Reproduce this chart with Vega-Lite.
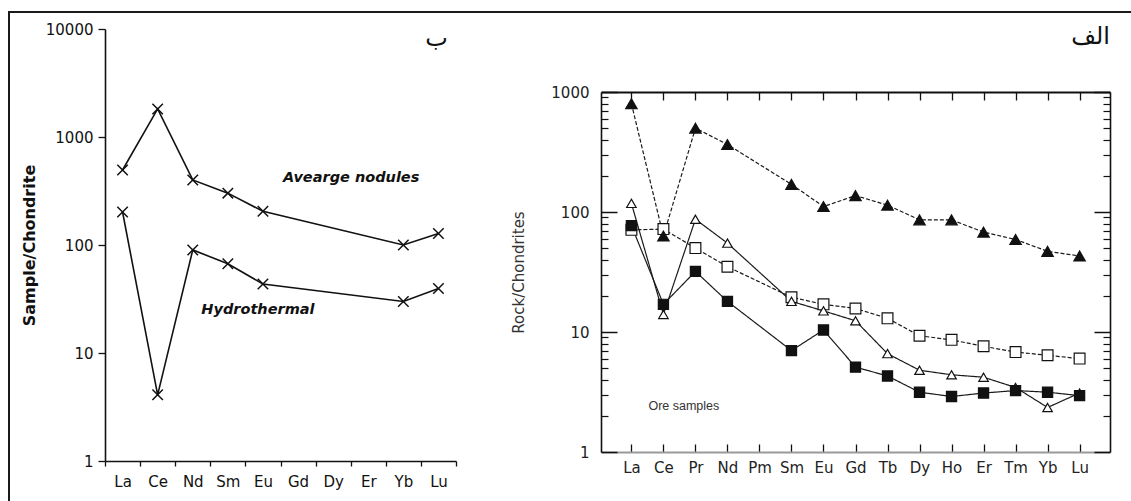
{
  "$schema": "https://vega.github.io/schema/vega-lite/v6.json",
  "background": "white",
  "padding": {"left": 8, "top": 11, "right": 0, "bottom": 0},
  "bounds": "flush",
  "spacing": 0,
  "config": {
    "view": {"stroke": null},
    "font": "DejaVu Sans",
    "axis": {"labelFont": "DejaVu Sans", "titleFont": "DejaVu Sans", "grid": false}
  },
  "datasets": {
    "left": [
      {"s": "N", "el": "La", "i": 1, "v": 495},
      {"s": "N", "el": "Ce", "i": 2, "v": 1820},
      {"s": "N", "el": "Nd", "i": 3, "v": 400},
      {"s": "N", "el": "Sm", "i": 4, "v": 302},
      {"s": "N", "el": "Eu", "i": 5, "v": 205},
      {"s": "N", "el": "Yb", "i": 9, "v": 100},
      {"s": "N", "el": "Lu", "i": 10, "v": 128},
      {"s": "H", "el": "La", "i": 1, "v": 202},
      {"s": "H", "el": "Ce", "i": 2, "v": 4.1},
      {"s": "H", "el": "Nd", "i": 3, "v": 90},
      {"s": "H", "el": "Sm", "i": 4, "v": 67},
      {"s": "H", "el": "Eu", "i": 5, "v": 43.5},
      {"s": "H", "el": "Yb", "i": 9, "v": 30},
      {"s": "H", "el": "Lu", "i": 10, "v": 39.5}
    ],
    "right": [
      {"s": "B", "el": "La", "i": 1, "v": 71},
      {"s": "B", "el": "Ce", "i": 2, "v": 72},
      {"s": "B", "el": "Pr", "i": 3, "v": 50},
      {"s": "B", "el": "Nd", "i": 4, "v": 35},
      {"s": "B", "el": "Sm", "i": 6, "v": 19.5},
      {"s": "B", "el": "Eu", "i": 7, "v": 17},
      {"s": "B", "el": "Gd", "i": 8, "v": 15.7},
      {"s": "B", "el": "Tb", "i": 9, "v": 13},
      {"s": "B", "el": "Dy", "i": 10, "v": 9.3},
      {"s": "B", "el": "Ho", "i": 11, "v": 8.6},
      {"s": "B", "el": "Er", "i": 12, "v": 7.6},
      {"s": "B", "el": "Tm", "i": 13, "v": 6.8},
      {"s": "B", "el": "Yb", "i": 14, "v": 6.4},
      {"s": "B", "el": "Lu", "i": 15, "v": 6.0},
      {"s": "D", "el": "La", "i": 1, "v": 118},
      {"s": "D", "el": "Ce", "i": 2, "v": 14},
      {"s": "D", "el": "Pr", "i": 3, "v": 87},
      {"s": "D", "el": "Nd", "i": 4, "v": 55},
      {"s": "D", "el": "Sm", "i": 6, "v": 18},
      {"s": "D", "el": "Eu", "i": 7, "v": 15},
      {"s": "D", "el": "Gd", "i": 8, "v": 12.4},
      {"s": "D", "el": "Tb", "i": 9, "v": 6.6},
      {"s": "D", "el": "Dy", "i": 10, "v": 4.8},
      {"s": "D", "el": "Ho", "i": 11, "v": 4.4},
      {"s": "D", "el": "Er", "i": 12, "v": 4.2},
      {"s": "D", "el": "Tm", "i": 13, "v": 3.45},
      {"s": "D", "el": "Yb", "i": 14, "v": 2.35},
      {"s": "D", "el": "Lu", "i": 15, "v": 3.1},
      {"s": "C", "el": "La", "i": 1, "v": 77},
      {"s": "C", "el": "Ce", "i": 2, "v": 17},
      {"s": "C", "el": "Pr", "i": 3, "v": 32},
      {"s": "C", "el": "Nd", "i": 4, "v": 18},
      {"s": "C", "el": "Sm", "i": 6, "v": 7},
      {"s": "C", "el": "Eu", "i": 7, "v": 10.4},
      {"s": "C", "el": "Gd", "i": 8, "v": 5.1},
      {"s": "C", "el": "Tb", "i": 9, "v": 4.3},
      {"s": "C", "el": "Dy", "i": 10, "v": 3.15},
      {"s": "C", "el": "Ho", "i": 11, "v": 2.9},
      {"s": "C", "el": "Er", "i": 12, "v": 3.1},
      {"s": "C", "el": "Tm", "i": 13, "v": 3.25},
      {"s": "C", "el": "Yb", "i": 14, "v": 3.15},
      {"s": "C", "el": "Lu", "i": 15, "v": 2.95},
      {"s": "A", "el": "La", "i": 1, "v": 800},
      {"s": "A", "el": "Ce", "i": 2, "v": 63},
      {"s": "A", "el": "Pr", "i": 3, "v": 500},
      {"s": "A", "el": "Nd", "i": 4, "v": 365},
      {"s": "A", "el": "Sm", "i": 6, "v": 170},
      {"s": "A", "el": "Eu", "i": 7, "v": 111},
      {"s": "A", "el": "Gd", "i": 8, "v": 137},
      {"s": "A", "el": "Tb", "i": 9, "v": 114},
      {"s": "A", "el": "Dy", "i": 10, "v": 86},
      {"s": "A", "el": "Ho", "i": 11, "v": 86},
      {"s": "A", "el": "Er", "i": 12, "v": 68},
      {"s": "A", "el": "Tm", "i": 13, "v": 59},
      {"s": "A", "el": "Yb", "i": 14, "v": 47},
      {"s": "A", "el": "Lu", "i": 15, "v": 43}
    ]
  },
  "vconcat": [
    {"width": 1123, "height": 2, "view": {"fill": "#1a1a1a", "stroke": null}, "data": {"values": []}, "mark": "point"},
    {
      "bounds": "flush",
      "spacing": 95,
      "hconcat": [
        {"width": 2, "height": 488, "view": {"fill": "#1a1a1a", "stroke": null}, "data": {"values": []}, "mark": "point"},
        {
          "bounds": "flush",
          "spacing": 496,
          "hconcat": [
            {
              "bounds": "flush",
              "spacing": 0,
              "vconcat": [
                {"width": 351, "height": 16, "data": {"values": []}, "mark": "point"},
                {
                  "width": 351,
                  "height": 432,
                  "data": {"name": "left"},
                  "encoding": {
                    "x": {
                      "field": "el", "type": "nominal",
                      "scale": {"type": "band", "domain": ["La", "Ce", "Nd", "Sm", "Eu", "Gd", "Dy", "Er", "Yb", "Lu"], "paddingInner": 0, "paddingOuter": 0},
                      "axis": {"title": null, "tickBand": "extent", "labelAngle": 0, "labelFontSize": 15, "labelColor": "#111", "tickSize": 5, "labelPadding": 8, "tickColor": "#111", "tickWidth": 1.3, "domainColor": "#111", "domainWidth": 1.6, "labelOverlap": false}
                    },
                    "y": {
                      "field": "v", "type": "quantitative",
                      "scale": {"type": "log", "domain": [1, 10000]},
                      "axis": {"title": "Sample/Chondrite", "values": [1, 10, 100, 1000, 10000], "format": "d", "tickSize": 7, "labelPadding": 5, "labelFontSize": 15, "labelColor": "#111", "tickColor": "#111", "tickWidth": 1.3, "domainColor": "#111", "domainWidth": 1.6, "titleFontSize": 16, "titleFontWeight": "bold", "titleColor": "#111", "titlePadding": 8}
                    }
                  },
                  "layer": [
                    {"mark": {"type": "line", "color": "#111", "strokeWidth": 1.6}, "encoding": {"detail": {"field": "s"}, "order": {"field": "i"}}},
                    {"mark": {"type": "point", "shape": "M-1,-1L1,1M-1,1L1,-1", "filled": false, "color": "#111", "strokeWidth": 1.5, "size": 110, "opacity": 1}},
                    {"data": {"values": [{"el": "Dy", "v": 420, "t": "Avearge nodules"}]}, "mark": {"type": "text", "font": "DejaVu Sans", "fontSize": 14.5, "fontWeight": "bold", "fontStyle": "italic", "align": "center", "baseline": "middle", "dx": 18, "color": "#111"}, "encoding": {"text": {"field": "t"}}},
                    {"data": {"values": [{"el": "Eu", "v": 25, "t": "Hydrothermal"}]}, "mark": {"type": "text", "font": "DejaVu Sans", "fontSize": 14.5, "fontWeight": "bold", "fontStyle": "italic", "align": "center", "baseline": "middle", "dx": -5, "color": "#111"}, "encoding": {"text": {"field": "t"}}},
                    {"data": {"values": [{"el": "Lu", "v": 6900, "t": "ب"}]}, "mark": {"type": "text", "font": "DejaVu Sans", "fontSize": 24, "align": "center", "baseline": "alphabetic", "dx": -2, "color": "#111"}, "encoding": {"text": {"field": "t"}}}
                  ]
                }
              ]
            },
            {
              "bounds": "flush",
              "spacing": 0,
              "vconcat": [
                {"width": 509, "height": 79, "data": {"values": []}, "mark": "point"},
                {
                  "width": 509,
                  "height": 360,
                  "data": {"name": "right"},
                  "title": {"text": "الف", "anchor": "end", "frame": "group", "fontSize": 24, "fontWeight": "normal", "font": "DejaVu Sans", "color": "#111", "offset": 36},
                  "resolve": {"axis": {"x": "independent", "y": "independent"}},
                  "layer": [
                    {
                      "mark": {"type": "line", "color": "#1a1a1a", "strokeWidth": 1.2},
                      "encoding": {
                        "x": {
                          "field": "el", "type": "nominal",
                          "scale": {"type": "point", "domain": ["La", "Ce", "Pr", "Nd", "Pm", "Sm", "Eu", "Gd", "Tb", "Dy", "Ho", "Er", "Tm", "Yb", "Lu"], "padding": 0.95},
                          "axis": {"orient": "bottom", "title": null, "labelAngle": 0, "labelFontSize": 15, "labelColor": "#222", "tickSize": -8, "labelPadding": 16, "tickColor": "#111", "tickWidth": 1.3, "domainColor": "#999", "domainWidth": 2, "labelOverlap": false}
                        },
                        "y": {
                          "field": "v", "type": "quantitative",
                          "scale": {"type": "log", "domain": [1, 1000]},
                          "axis": {"orient": "left", "title": "Rock/Chondrites", "values": [1, 10, 100, 1000], "format": "d", "tickSize": -16, "labelPadding": 28, "tickColor": "#111", "tickWidth": 1.5, "domainColor": "#111", "domainWidth": 1.6, "labelFontSize": 15, "labelColor": "#222", "titleFontSize": 15, "titleFontWeight": "normal", "titleColor": "#333", "titlePadding": 24}
                        },
                        "detail": {"field": "s"},
                        "order": {"field": "i"},
                        "strokeDash": {"field": "s", "scale": {"domain": ["A", "B", "C", "D"], "range": [[4, 2], [4, 2], [1, 0], [1, 0]]}, "legend": null}
                      }
                    },
                    {
                      "mark": {"type": "point", "filled": true, "stroke": "#111", "strokeWidth": 1.2, "opacity": 1},
                      "encoding": {
                        "x": {"field": "el", "type": "nominal", "scale": {"type": "point", "domain": ["La", "Ce", "Pr", "Nd", "Pm", "Sm", "Eu", "Gd", "Tb", "Dy", "Ho", "Er", "Tm", "Yb", "Lu"], "padding": 0.95}, "axis": null},
                        "y": {"field": "v", "type": "quantitative", "scale": {"type": "log", "domain": [1, 1000]}, "axis": null},
                        "shape": {"field": "s", "scale": {"domain": ["A", "B", "C", "D"], "range": ["triangle-up", "square", "square", "triangle-up"]}, "legend": null},
                        "fill": {"field": "s", "scale": {"domain": ["A", "B", "C", "D"], "range": ["#111111", "#ffffff", "#111111", "#ffffff"]}, "legend": null},
                        "size": {"field": "s", "scale": {"domain": ["A", "B", "C", "D"], "range": [130, 90, 100, 110]}, "legend": null}
                      }
                    },
                    {
                      "mark": {"type": "point", "opacity": 0},
                      "encoding": {
                        "x": {"field": "el", "type": "nominal", "scale": {"type": "point", "domain": ["La", "Ce", "Pr", "Nd", "Pm", "Sm", "Eu", "Gd", "Tb", "Dy", "Ho", "Er", "Tm", "Yb", "Lu"], "padding": 0.95}, "axis": {"orient": "top", "title": null, "labels": false, "tickSize": -8, "tickColor": "#111", "tickWidth": 1.3, "domainColor": "#111", "domainWidth": 2.2}},
                        "y": {"field": "v", "type": "quantitative", "scale": {"type": "log", "domain": [1, 1000]}, "axis": {"orient": "right", "title": null, "labels": false, "values": [1, 10, 100, 1000], "tickSize": -16, "tickColor": "#111", "tickWidth": 1.5, "domainColor": "#111", "domainWidth": 1.6}}
                      }
                    },
                    {
                      "mark": {"type": "point", "opacity": 0},
                      "encoding": {
                        "x": {"field": "el", "type": "nominal", "scale": {"type": "point", "domain": ["La", "Ce", "Pr", "Nd", "Pm", "Sm", "Eu", "Gd", "Tb", "Dy", "Ho", "Er", "Tm", "Yb", "Lu"], "padding": 0.95}, "axis": null},
                        "y": {"field": "v", "type": "quantitative", "scale": {"type": "log", "domain": [1, 1000]}, "axis": {"orient": "left", "title": null, "labels": false, "domain": false, "values": [2, 3, 4, 5, 6, 7, 8, 9, 20, 30, 40, 50, 60, 70, 80, 90, 200, 300, 400, 500, 600, 700, 800, 900], "tickSize": -7, "tickColor": "#111", "tickWidth": 1.2}}
                      }
                    },
                    {
                      "mark": {"type": "point", "opacity": 0},
                      "encoding": {
                        "x": {"field": "el", "type": "nominal", "scale": {"type": "point", "domain": ["La", "Ce", "Pr", "Nd", "Pm", "Sm", "Eu", "Gd", "Tb", "Dy", "Ho", "Er", "Tm", "Yb", "Lu"], "padding": 0.95}, "axis": null},
                        "y": {"field": "v", "type": "quantitative", "scale": {"type": "log", "domain": [1, 1000]}, "axis": {"orient": "right", "title": null, "labels": false, "domain": false, "values": [2, 3, 4, 5, 6, 7, 8, 9, 20, 30, 40, 50, 60, 70, 80, 90, 200, 300, 400, 500, 600, 700, 800, 900], "tickSize": -7, "tickColor": "#111", "tickWidth": 1.2}}
                      }
                    },
                    {
                      "data": {"values": [{"el": "Ce", "v": 2.4, "t": "Ore samples"}]},
                      "mark": {"type": "text", "font": "Liberation Sans", "fontSize": 12.5, "align": "left", "baseline": "middle", "dx": -15, "color": "#333"},
                      "encoding": {
                        "x": {"field": "el", "type": "nominal", "scale": {"type": "point", "domain": ["La", "Ce", "Pr", "Nd", "Pm", "Sm", "Eu", "Gd", "Tb", "Dy", "Ho", "Er", "Tm", "Yb", "Lu"], "padding": 0.95}, "axis": null},
                        "y": {"field": "v", "type": "quantitative", "scale": {"type": "log", "domain": [1, 1000]}, "axis": null},
                        "text": {"field": "t"}
                      }
                    }
                  ]
                }
              ]
            }
          ]
        }
      ]
    }
  ]
}
